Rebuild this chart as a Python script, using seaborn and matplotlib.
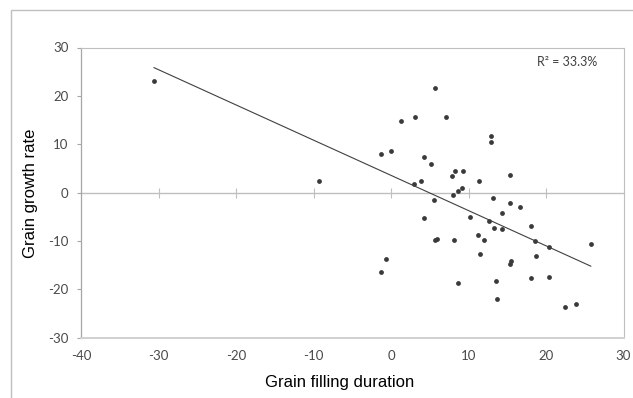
import numpy as np
import pandas as pd
import matplotlib.pyplot as plt
import matplotlib.patches as mpatches
import seaborn as sns

# ─────────────────────────────────────────────
# Scatter + linear fit — grain filling duration vs grain growth rate
# ─────────────────────────────────────────────

duration = [-30.6, -9.3, -1.3, 0.0, -1.3, -0.6, 1.3, 3.1, 3.0, 3.9,
            4.3, 4.3, 5.1, 5.5, 5.7, 5.7, 5.9, 7.1, 7.9, 8.2,
            8.0, 8.1, 8.6, 8.7, 9.2, 9.3, 10.2, 11.3, 11.2, 11.5,
            12.0, 12.9, 12.9, 12.6, 13.1, 13.3, 13.6, 13.7, 14.3, 14.3,
            15.3, 15.4, 15.3, 15.5, 16.7, 18.0, 18.1, 18.6, 18.7, 20.4,
            20.4, 22.5, 23.9, 25.8]
growth = [23.1, 2.3, 8.0, 8.6, -16.4, -13.7, 14.9, 15.7, 1.7, 2.3,
          7.4, -5.2, 5.9, -1.6, 21.7, -9.9, -9.6, 15.7, 3.4, 4.4,
          -0.4, -9.9, 0.3, -18.6, 0.9, 4.4, -5.0, 2.3, -8.8, -12.6,
          -9.7, 11.7, 10.5, -5.9, -1.1, -7.4, -18.3, -22.1, -4.3, -7.6,
          -2.1, 3.7, -14.7, -14.1, -3.0, -6.9, -17.6, -10.1, -13.2, -11.3,
          -17.4, -23.7, -23.1, -10.7]
r2_label = "R² = 33.3%"

df = pd.DataFrame({"duration": duration, "growth": growth})

sns.set_style("white")
plt.rcParams["axes.unicode_minus"] = False

W, H = 633, 398
fig = plt.figure(figsize=(W / 100, H / 100), dpi=100)
ax = fig.add_axes([81 / W, 1 - 337.7 / H, (623.5 - 81) / W, (337.7 - 47.5) / H])

sns.regplot(data=df, x="duration", y="growth", ci=None, ax=ax, color="#3a3a3a",
            scatter_kws=dict(s=12, linewidths=0, alpha=1),
            line_kws=dict(lw=0.8, color="#404040"))

ax.set_xlim(-40, 30)
ax.set_ylim(-30, 30)
ax.set_xticks(range(-40, 31, 10))
ax.set_yticks(range(-30, 31, 10))
ax.set_xlabel("")
ax.set_ylabel("")

tick_font = "Lato"
for lab in ax.get_xticklabels() + ax.get_yticklabels():
    lab.set_family(tick_font)
    lab.set_fontsize(9.5)
    lab.set_color("#4a4a4a")

ax.tick_params(axis="x", length=0, pad=8.5)
ax.tick_params(axis="y", left=True, direction="out", length=3,
               color="#a6a6a6", width=0.8, pad=6)

ax.spines["left"].set_color("#a6a6a6")
ax.spines["left"].set_linewidth(0.9)
ax.spines["bottom"].set_color("#d0d0d0")
ax.spines["bottom"].set_linewidth(1.4)
for s in ["top", "right"]:
    ax.spines[s].set_color("#bfbfbf")
    ax.spines[s].set_linewidth(0.8)

# horizontal axis crossing at y = 0 with cross ticks
sec = ax.secondary_xaxis(0, transform=ax.transData)
sec.set_xticks(range(-30, 21, 10))
sec.tick_params(axis="x", direction="inout", length=7, width=0.8,
                color="#bfbfbf", labelbottom=False, labeltop=False)
for s in sec.spines.values():
    s.set_color("#bfbfbf")
    s.set_linewidth(1.0)

fig.text(340 / W, 1 - 382.7 / H, "Grain filling duration", ha="center", va="center",
         fontsize=12, family="Liberation Sans", color="black")
fig.text(31 / W, 1 - 193 / H, "Grain growth rate", ha="center", va="center",
         rotation=90, fontsize=12, family="Liberation Sans", color="black")
fig.text(536.7 / W, 1 - 62 / H, r2_label, ha="left", va="center",
         fontsize=9, family=tick_font, color="#404040")

# outer chart border
fig.patches.append(mpatches.Rectangle((11 / W, -0.1), 1.2, 1.1 - 10 / H,
                                      transform=fig.transFigure, fill=False,
                                      edgecolor="#bfbfbf", lw=1.0, clip_on=False))

fig.savefig("out.png", dpi=100)
plt.close()
